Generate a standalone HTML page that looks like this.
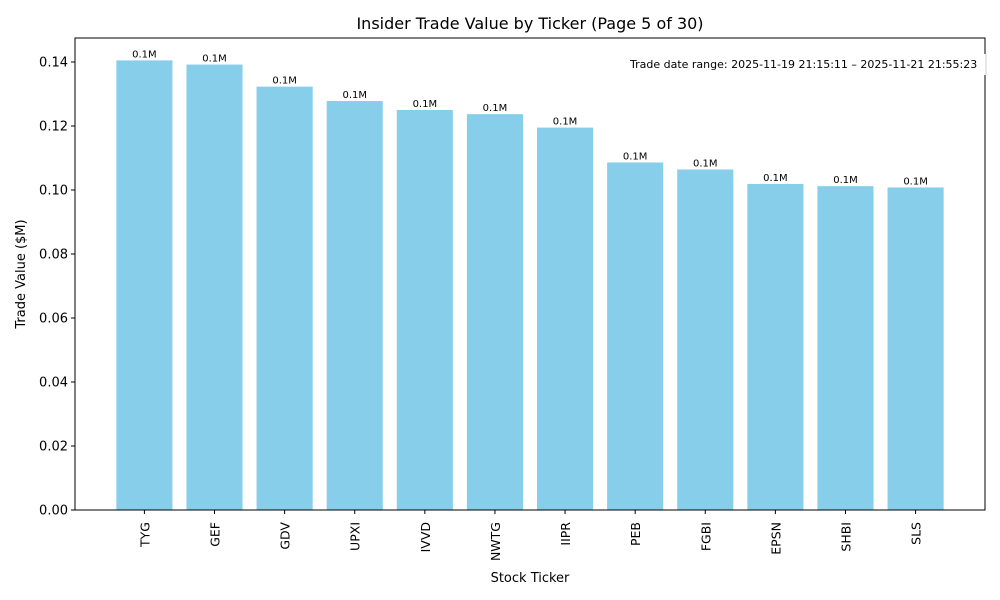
<!DOCTYPE html>
<html><head><meta charset="utf-8"><style>
body{margin:0;background:#fff}
svg{display:block;font-family:"DejaVu Sans","Liberation Sans",sans-serif}
</style></head><body>
<svg id="chart" width="1000" height="600">
<rect width="1000" height="600" fill="#fff"/>
<text x="530" y="29" text-anchor="middle" font-size="16">Insider Trade Value by Ticker (Page 5 of 30)</text>
<g id="bars"></g>
<g id="axes"></g>
<rect x="626" y="54" width="360" height="21" fill="#fff"/>
<line x1="986" y1="54" x2="986" y2="75" stroke="#ccc" stroke-width="1"/>
<text x="630" y="68" font-size="11">Trade date range: 2025-11-19 21:15:11 – 2025-11-21 21:55:23</text>
<text x="530" y="582" text-anchor="middle" font-size="13">Stock Ticker</text>
<text transform="translate(25,274) rotate(-90)" text-anchor="middle" font-size="13">Trade Value ($M)</text>
</svg>
<script>
const categories=["TYG","GEF","GDV","UPXI","IVVD","NWTG","IIPR","PEB","FGBI","EPSN","SHBI","SLS"];
const values=[0.1405,0.1392,0.1323,0.1278,0.1250,0.1237,0.1195,0.1086,0.1064,0.1019,0.1012,0.1008];
const valueLabels=["0.1M","0.1M","0.1M","0.1M","0.1M","0.1M","0.1M","0.1M","0.1M","0.1M","0.1M","0.1M"];
const yTicks=[0,0.02,0.04,0.06,0.08,0.10,0.12,0.14];
const L=75,R=985,T=38,B=510,yMax=0.1475;
const n=categories.length;
const xMin=-0.4-0.05*(n-0.2),xMax=n-1+0.4+0.05*(n-0.2);
const xs=i=>L+(i-xMin)/(xMax-xMin)*(R-L);
const ys=v=>B-v/yMax*(B-T);
const ns="http://www.w3.org/2000/svg";
const bars=document.getElementById('bars'),axes=document.getElementById('axes');
function mk(tag,attrs,parent,text){const e=document.createElementNS(ns,tag);for(const k in attrs)e.setAttribute(k,attrs[k]);if(text!==undefined)e.textContent=text;parent.appendChild(e);return e;}
const bw=0.8*(R-L)/(xMax-xMin);
categories.forEach((c,i)=>{
  const x=xs(i),y=ys(values[i]);
  const r=mk('rect',{x:x-bw/2,y:y,width:bw,height:B-y,fill:'#87ceeb'},bars);
  
  
  const t=mk('text',{x:x,y:y-3,'text-anchor':'middle','font-size':'10'},bars,valueLabels[i]);
  
  
  mk('line',{x1:x,x2:x,y1:B,y2:B+4,stroke:'#000'},axes);
  const tl=mk('text',{transform:`translate(${x+5},${B+12}) rotate(-90)`,'text-anchor':'end','font-size':'12.5'},axes,c);
  
  
});
yTicks.forEach(v=>{
  const y=ys(v);
  mk('line',{x1:L-4,x2:L,y1:y,y2:y,stroke:'#000'},axes);
  const t=mk('text',{x:L-7,y:y+4.5,'text-anchor':'end','font-size':'13'},axes,v.toFixed(2));
  
  
});
const frame=mk('rect',{x:L,y:T,width:R-L,height:B-T,fill:'none',stroke:'#000','stroke-width':1},axes);


</script>
</body></html>
